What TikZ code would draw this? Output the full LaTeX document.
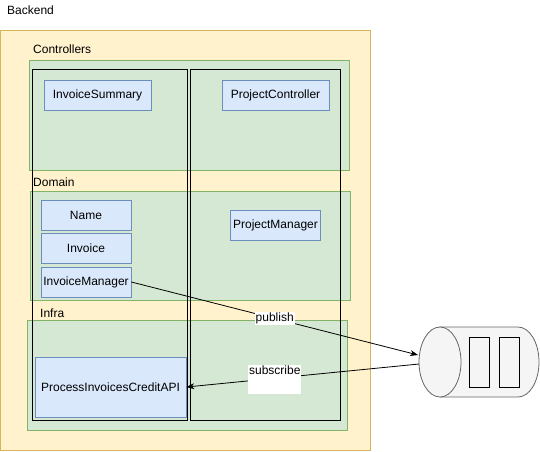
\documentclass[tikz,border=0pt]{standalone}
\usepackage{fontspec}
\setmainfont{Liberation Sans}
\usetikzlibrary{arrows.meta}
\definecolor{yfill}{HTML}{FFF2CC}
\definecolor{ystroke}{HTML}{D6B656}
\definecolor{gfill}{HTML}{D5E8D4}
\definecolor{gstroke}{HTML}{82B366}
\definecolor{bfill}{HTML}{DAE8FC}
\definecolor{bstroke}{HTML}{6C8EBF}
\definecolor{cfill}{HTML}{F5F5F5}
\definecolor{cstroke}{HTML}{666666}
\tikzset{
  lbl/.style={font=\fontsize{12}{14}\selectfont, anchor=west, inner sep=0pt},
  grp/.style={fill=gfill, draw=gstroke, line width=0.8pt},
  blk/.style={draw=black, line width=1pt},
  cls/.style={rectangle, fill=bfill, draw=bstroke, line width=0.8pt, font=\fontsize{12}{14}\selectfont, inner sep=1pt, minimum height=30pt},
  elbl/.style={fill=white, font=\fontsize{12}{14}\selectfont, inner sep=1pt},
  arr/.style={draw=black, line width=0.8pt, -{Stealth[length=8pt,width=6pt]}}
}
\begin{document}
\begin{tikzpicture}[x=1pt,y=-1pt]
\useasboundingbox (0,0) rectangle (540,451);
% outer backend
\node[lbl] (backendlbl) at (7,10) {Backend};
\draw[fill=yfill, draw=ystroke, line width=0.8pt] (0,30) rectangle (370,450);
% groups
\node[lbl] (ctrllbl) at (33,49) {Controllers};
\draw[grp] (29,60) rectangle (349,170);
\node[lbl] (domlbl) at (33,182) {Domain};
\draw[grp] (30,191) rectangle (350,300);
\node[lbl] (infralbl) at (40,313) {Infra};
\draw[grp] (27,320) rectangle (347,430);
% black columns
\draw[blk] (32,69) rectangle (187,420);
\draw[blk] (190.5,69) rectangle (340.5,420);
% classes
\node[cls, minimum width=107pt] (isum) at (97.5,95) {InvoiceSummary};
\node[cls, minimum width=107pt] (pctrl) at (275.5,95.5) {ProjectController};
\node[cls, minimum width=90pt] (name) at (86,215) {Name};
\node[cls, minimum width=90pt] (inv) at (86,248) {Invoice};
\node[cls, minimum width=90pt] (invmgr) at (86,282) {InvoiceManager};
\node[cls, minimum width=90pt] (pmgr) at (275.5,225.5) {ProjectManager};
\node[cls, minimum width=151pt, minimum height=60pt] (api) at (110.5,387) {ProcessInvoicesCreditAPI};
% queue cylinder
\draw[fill=cfill, draw=cstroke, line width=0.8pt]
  (440,327) -- (518,327) arc[start angle=90, end angle=-90, x radius=21, y radius=-35] -- (440,397) -- cycle;
\draw[fill=cfill, draw=cstroke, line width=0.8pt] (440,362) ellipse[x radius=21, y radius=35];
\node[draw=black, line width=0.8pt, minimum width=20pt, minimum height=50pt, inner sep=0pt] (slot1) at (479,362) {};
\node[draw=black, line width=0.8pt, minimum width=20pt, minimum height=50pt, inner sep=0pt] (slot2) at (509,362) {};
\coordinate (qin) at (418,355);
\coordinate (qout) at (419,364);
% connectors
\draw[arr] (invmgr.east) -- (qin) node[elbl, pos=0.5] {publish};
\draw[arr] (qout) -- (api.east) node[elbl, pos=0.62, align=center, yshift=-1pt] {subscribe\\[0pt]\strut};
\end{tikzpicture}
\end{document}
